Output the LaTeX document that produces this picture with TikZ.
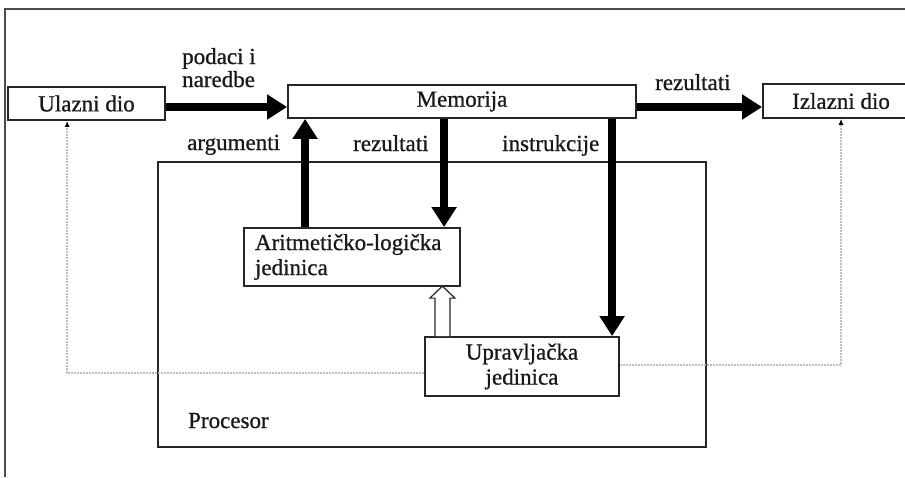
\documentclass[tikz,border=0pt]{standalone}
\usepackage{fontspec}
\setmainfont[FakeBold=0.8]{Liberation Serif}
\usetikzlibrary{arrows.meta}
\begin{document}
\begin{tikzpicture}[x=1pt,y=-1pt,
  txt/.style={font=\fontsize{23}{25}\selectfont, text=black!90},
  box/.style={draw=black!85, line width=1.8pt, inner sep=0pt, txt},
  big/.style={draw=black, line width=8.5pt, -{Triangle[width=24pt,length=20pt]}},
  lbl/.style={txt, inner sep=0pt, anchor=base west},
  fb/.style={draw=gray!50, line width=1.3pt, dash pattern=on 2pt off 1pt,
    -{Latex[length=6pt,width=5pt,color=black]}}
]
\clip (0,0) rectangle (905,477);
\fill[white] (0,0) rectangle (905,477);
\draw[line width=1.5pt, black!70] (905,9) -- (5,9) -- (5,477);

% boxes
\node[box, minimum width=548pt, minimum height=285pt] (proc) at (432,304.5) {};
\node[box, minimum width=157pt, minimum height=33pt] (in) at (86.5,103.5) {Ulazni dio};
\node[box, minimum width=348pt, minimum height=33pt] (mem) at (462,101.5) {Memorija};
\node[box, minimum width=156pt, minimum height=34pt] (out) at (841,101) {Izlazni dio};
\node[box, minimum width=216pt, minimum height=58pt, text width=194pt, align=left]
  (alu) at (352,257) {Aritmetičko-logička\\jedinica};
\node[box, minimum width=194pt, minimum height=59pt, align=center]
  (up) at (522,366.5) {Upravljačka\\jedinica};

% thick arrows
\draw[big] ([yshift=-3.5pt]in.east) -- ([yshift=-5.5pt]mem.west);
\draw[big] ([yshift=-5.5pt]mem.east) -- ([yshift=-6pt]out.west);
\draw[big, line width=8pt] ([xshift=62pt]alu.north west) -- ([xshift=62pt]alu.north west |- mem.south);
\draw[big, line width=8pt] ([xshift=157pt]mem.south west) -- ([xshift=157pt]mem.south west |- alu.north);
\draw[big, line width=8pt] ([xshift=325pt]mem.south west) -- ([xshift=325pt]mem.south west |- up.north);

% hollow arrow
\coordinate (hb) at ([xshift=-26pt]alu.south east |- up.north);
\draw[line width=1.2pt, fill=white, draw=black!85, line join=miter]
  (hb) -- ++(0,-38) -- ++(-5,0) -- ++(12.5,-12) -- ++(12.5,12) -- ++(-5,0) -- ++(0,38);

% dotted feedback lines
\draw[fb] ([yshift=-6.5pt]up.west) -| ([xshift=60pt]in.south west);
\draw[fb] ([yshift=1.5pt]up.east) -| (out.south);

% labels
\node[lbl] (pa) at (182,64) {podaci i};
\node[lbl] (pb) at (182,87) {naredbe};
\node[lbl] (rz1) at (655,90) {rezultati};
\node[lbl] (arg) at (187,150) {argumenti};
\node[lbl] (rz2) at (353,151) {rezultati};
\node[lbl] (ins) at (502,151) {instrukcije};
\node[lbl] (pr) at (188,428) {Procesor};
\end{tikzpicture}
\end{document}
